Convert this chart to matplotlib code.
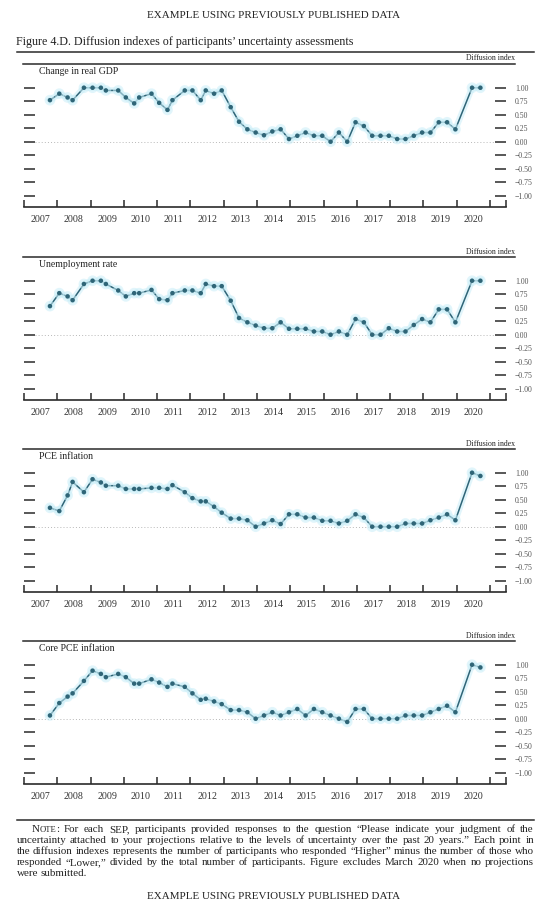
import numpy as np
import matplotlib
matplotlib.use("Agg")
import matplotlib.pyplot as plt
import matplotlib.patheffects as pe
from matplotlib.lines import Line2D

SERIF = ["Liberation Serif", "DejaVu Serif"]
plt.rcParams["font.family"] = SERIF

# ---------------- data ----------------
sep_dates = [2007.78,
             2008.06, 2008.31, 2008.46, 2008.80,
             2009.06, 2009.31, 2009.46, 2009.83,
             2010.06, 2010.31, 2010.46, 2010.83,
             2011.06, 2011.31, 2011.46, 2011.83,
             2012.06, 2012.31, 2012.46, 2012.71, 2012.94,
             2013.21, 2013.46, 2013.71, 2013.96,
             2014.21, 2014.46, 2014.71, 2014.96,
             2015.21, 2015.46, 2015.71, 2015.96,
             2016.21, 2016.46, 2016.71, 2016.96,
             2017.21, 2017.46, 2017.71, 2017.96,
             2018.21, 2018.46, 2018.71, 2018.96,
             2019.21, 2019.46, 2019.71, 2019.96,
             2020.46, 2020.71]

gdp = [0.77,
       0.89, 0.82, 0.77, 1.00,
       1.00, 1.00, 0.95, 0.95,
       0.82, 0.71, 0.82, 0.89,
       0.72, 0.59, 0.77, 0.95,
       0.95, 0.77, 0.95, 0.89, 0.95,
       0.64, 0.37, 0.23, 0.17,
       0.12, 0.19, 0.23, 0.05,
       0.11, 0.17, 0.11, 0.11,
       0.00, 0.17, 0.00, 0.36,
       0.29, 0.11, 0.11, 0.11,
       0.05, 0.05, 0.11, 0.17,
       0.17, 0.36, 0.36, 0.23,
       1.00, 1.00]

unemployment = [0.53,
                0.77, 0.71, 0.64, 0.94,
                1.00, 1.00, 0.94, 0.82,
                0.71, 0.77, 0.77, 0.83,
                0.66, 0.64, 0.77, 0.82,
                0.82, 0.77, 0.94, 0.90, 0.90,
                0.63, 0.31, 0.23, 0.17,
                0.12, 0.12, 0.23, 0.11,
                0.11, 0.11, 0.06, 0.06,
                0.00, 0.06, 0.00, 0.29,
                0.23, 0.00, 0.00, 0.12,
                0.06, 0.06, 0.18, 0.29,
                0.23, 0.47, 0.47, 0.23,
                1.00, 1.00]

pce = [0.35,
       0.29, 0.58, 0.83, 0.64,
       0.88, 0.82, 0.76, 0.76,
       0.70, 0.70, 0.70, 0.72,
       0.72, 0.70, 0.77, 0.64,
       0.53, 0.47, 0.47, 0.37, 0.26,
       0.15, 0.15, 0.12, 0.00,
       0.06, 0.12, 0.05, 0.23,
       0.23, 0.17, 0.17, 0.11,
       0.11, 0.06, 0.11, 0.23,
       0.17, 0.00, 0.00, 0.00,
       0.00, 0.06, 0.06, 0.06,
       0.12, 0.17, 0.23, 0.12,
       1.00, 0.94]

core_pce = [0.06,
            0.29, 0.41, 0.47, 0.70,
            0.89, 0.83, 0.77, 0.83,
            0.77, 0.65, 0.65, 0.73,
            0.67, 0.59, 0.65, 0.59,
            0.47, 0.35, 0.37, 0.32, 0.27,
            0.16, 0.16, 0.12, 0.00,
            0.06, 0.12, 0.06, 0.12,
            0.18, 0.06, 0.18, 0.12,
            0.06, 0.00, -0.06, 0.18,
            0.18, 0.00, 0.00, 0.00,
            0.00, 0.06, 0.06, 0.06,
            0.12, 0.18, 0.24, 0.12,
            1.00, 0.95]

panel_titles = ["Change in real GDP", "Unemployment rate", "PCE inflation", "Core PCE inflation"]
panel_series = [gdp, unemployment, pce, core_pce]
year_labels = [str(y) for y in range(2007, 2021)]
ytick_values = [-1.00, -0.75, -0.50, -0.25, 0.00, 0.25, 0.50, 0.75, 1.00]
ytick_labels = ["\u22121.00", "\u22120.75", "\u22120.50", "\u22120.25", "0.00", "0.25", "0.50", "0.75", "1.00"]

header = "EXAMPLE USING PREVIOUSLY PUBLISHED DATA"
fig_title = "Figure 4.D. Diffusion indexes of participants\u2019 uncertainty assessments"
unit_label = "Diffusion index"
note_lines = [
    "NOTE: For each SEP, participants provided responses to the question \u201cPlease indicate your judgment of the",
    "uncertainty attached to your projections relative to the levels of uncertainty over the past 20 years.\u201d Each point in",
    "the diffusion indexes represents the number of participants who responded \u201cHigher\u201d minus the number of those who",
    "responded \u201cLower,\u201d divided by the total number of participants. Figure excludes March 2020 when no projections",
    "were submitted.",
]

# ---------------- layout ----------------
W, H = 548, 906
fig = plt.figure(figsize=(W / 100, H / 100), dpi=100)
fig.patch.set_facecolor("white")

def fx(px):
    return px / W

def fy(py):
    return 1 - py / H

LINE = "#2f6577"
GLOW = "#c9eef8"
DARK = "#2a2a2a"
TXT = "#222222"
GRAY = "#555555"

bottoms = [207, 400, 592, 784]
ax_h = 143

fig.text(fx(274), fy(15.7), header, ha="center", va="center", fontsize=7.95, color=TXT)
fig.text(fx(16.5), fy(41.7), fig_title, ha="left", va="center", fontsize=8.65, color=TXT)
fig.add_artist(Line2D([fx(17), fx(534)], [fy(51.5), fy(51.5)], color=DARK, lw=1.1))

for i, (title, vals) in enumerate(zip(panel_titles, panel_series)):
    B = bottoms[i]
    top = B - ax_h
    ax = fig.add_axes([fx(24), fy(B), fx(506) - fx(24), ax_h / H])
    ax.set_facecolor("none")
    ax.set_xlim(2007, 2021.48)
    ax.set_ylim(-1.21, 1.44)

    ax.axhline(0, xmin=11 / 482, xmax=471 / 482, color="#b8b8b8", lw=0.7, ls=(0, (1, 2.2)), zorder=1)
    ax.plot(sep_dates, vals, color=LINE, lw=1.1, marker="o", ms=3.2,
            markeredgewidth=0, zorder=3,
            path_effects=[pe.Stroke(linewidth=4.5, foreground=GLOW, alpha=0.55), pe.Normal()])

    for s in ["left", "right", "top"]:
        ax.spines[s].set_visible(False)
    ax.spines["bottom"].set_color(DARK)
    ax.spines["bottom"].set_linewidth(1.2)

    ax.set_yticks(ytick_values)
    ax.set_yticklabels(ytick_labels)
    ax.tick_params(axis="y", which="major", direction="in", length=8, width=1.1,
                   color=DARK, left=True, right=True, labelleft=False, labelright=True,
                   labelsize=5.6, labelcolor=GRAY, pad=6.5)

    ax.set_xticks(list(range(2007, 2022)) + [2021.48])
    ax.tick_params(axis="x", which="major", direction="in", length=5.2, width=1.1,
                   color=DARK, labelbottom=False, top=False)
    ax.set_xticks([y + 0.5 for y in range(2007, 2021)], minor=True)
    ax.set_xticklabels(year_labels, minor=True)
    ax.tick_params(axis="x", which="minor", length=0, labelsize=7.2, labelcolor="#333333", pad=6)

    # top rule, title, unit label
    fig.add_artist(Line2D([fx(22.7), fx(515)], [fy(top), fy(top)], color=DARK, lw=1.1))
    fig.text(fx(39.3), fy(top + 7.6), title, ha="left", va="center", fontsize=7.0, color=TXT)
    fig.text(fx(514.5), fy(top - 1.5), unit_label, ha="right", va="bottom", fontsize=5.6, color=TXT)

# ---------------- note ----------------
fig.add_artist(Line2D([fx(17), fx(534)], [fy(820), fy(820)], color=DARK, lw=1.1))

renderer = fig.canvas.get_renderer()

def piece_width(s, size):
    t = fig.text(0, 0, s, fontsize=size)
    w = t.get_window_extent(renderer=renderer).width
    t.remove()
    return w

# choose the note font size so that the longest full line fits naturally
base_fs = 7.3
natural = piece_width(note_lines[2], base_fs)
NOTE_FS = min(base_fs * 512.0 / natural, 8.6)

def word_pieces(word):
    if word == "NOTE:":
        return [("N", NOTE_FS), ("OTE", NOTE_FS * 0.78), (":", NOTE_FS)]
    return [(word, NOTE_FS)]

note_y = [829, 840, 851, 862, 873]
for li, line in enumerate(note_lines):
    x0 = 31.5 if li == 0 else 16.5
    x1 = 534
    words = line.split(" ")
    widths = [sum(piece_width(p, s) for p, s in word_pieces(w)) for w in words]
    if li < len(note_lines) - 1 and len(words) > 1:
        gap = (x1 - x0 - sum(widths)) / (len(words) - 1)
    else:
        gap = piece_width("a a", NOTE_FS) - piece_width("aa", NOTE_FS)
    x = x0
    for w, wd in zip(words, widths):
        xx = x
        for p, s in word_pieces(w):
            fig.text(fx(xx), fy(note_y[li] + 3), p, ha="left", va="baseline",
                     fontsize=s, color=TXT)
            xx += piece_width(p, s)
        x += wd + gap

fig.text(fx(274), fy(896.7), header, ha="center", va="center", fontsize=7.95, color=TXT)

fig.savefig("out.png", dpi=100, facecolor="white")
